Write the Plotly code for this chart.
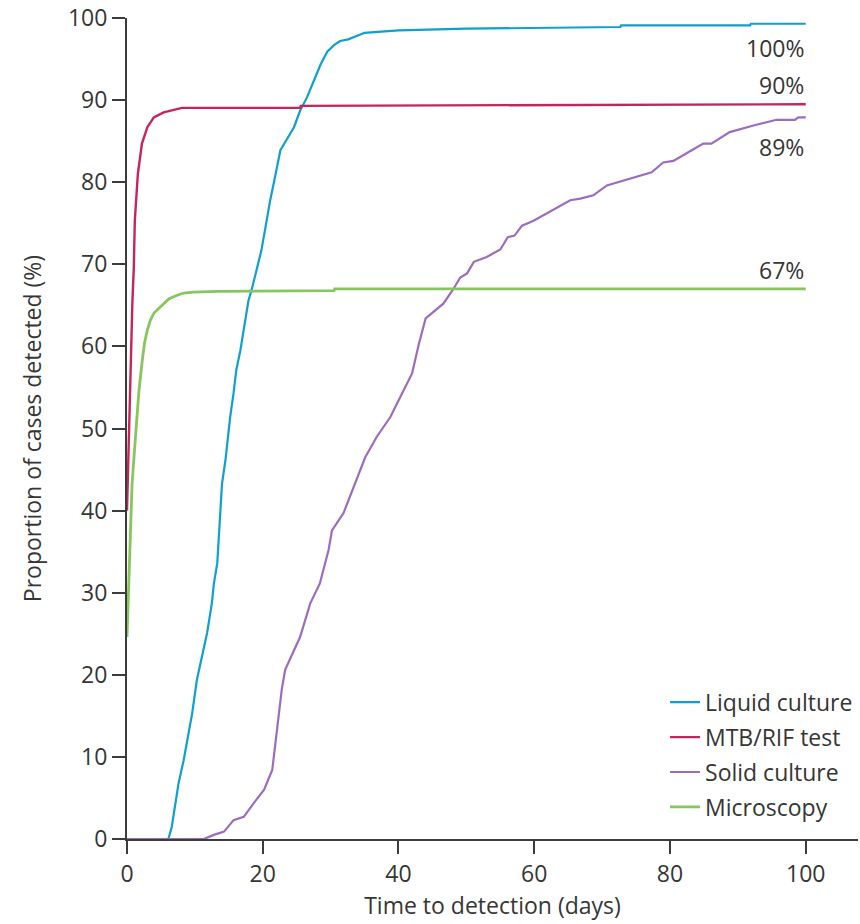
import plotly.graph_objects as go

# Time to detection (days) and cumulative proportion detected (%) per method
liquid_days = [0, 6.1, 6.6, 7.1, 7.6, 8.35, 8.85, 9.6, 10.3, 11.05, 11.8, 12.5, 12.8, 13.3, 13.5,
               14.0, 14.5, 15.2, 15.7, 16.1, 16.7, 17.3, 17.9, 18.4, 19.1, 19.8, 20.4, 21.1, 21.9,
               22.6, 23.6, 24.6, 25.5, 26.5, 27.5, 28.5, 29.5, 30.5, 31.4, 32.6, 35, 40, 50,
               72.7, 72.8, 91.8, 91.9, 100]
liquid_pct = [0, 0, 1.5, 4.4, 6.8, 9.6, 11.7, 15.3, 19.4, 22.2, 25.1, 28.7, 31.1, 33.6, 36.4,
              43.3, 46.1, 51.4, 54.3, 57.1, 59.5, 62.8, 65.6, 67.0, 69.3, 71.7, 74.5, 77.8, 81.0,
              83.9, 85.3, 86.7, 88.7, 90.3, 92.3, 94.3, 95.9, 96.7, 97.2, 97.4, 98.2, 98.5, 98.7,
              98.9, 99.1, 99.1, 99.3, 99.3]

mtb_days = [0, 0.15, 0.3, 0.5, 0.6, 0.8, 1.0, 1.15, 1.6, 2.2, 3.0, 3.95, 5.4, 8.1, 25.5, 25.6, 100]
mtb_pct = [40, 45, 50, 55, 59.5, 65.6, 69.5, 75.3, 81.0, 84.7, 86.7, 87.9, 88.5, 89.05, 89.05, 89.3, 89.5]

solid_days = [0, 11.3, 12.8, 14.3, 15.7, 17.2, 18.7, 20.2, 21.4, 22.1, 22.8, 23.3, 25.5, 27.0,
              28.4, 29.7, 30.2, 31.9, 33.4, 35.1, 36.8, 38.8, 40.3, 42.0, 43.0, 44.0, 46.6, 48.1,
              49.1, 50.1, 51.1, 53.0, 55.0, 56.1, 57.1, 58.2, 59.9, 61.8, 65.3, 66.8, 68.7, 70.7,
              74.6, 77.3, 79.0, 80.5, 83.2, 84.9, 86.1, 88.8, 92.3, 95.7, 98.4, 98.9, 100]
solid_pct = [0, 0, 0.5, 0.9, 2.3, 2.7, 4.4, 6.0, 8.4, 13.3, 18.2, 20.6, 24.6, 28.7,
             31.1, 35.2, 37.6, 39.7, 42.9, 46.5, 49.0, 51.4, 53.9, 56.7, 60.3, 63.4, 65.2, 67.0,
             68.4, 68.9, 70.3, 70.9, 71.8, 73.3, 73.5, 74.7, 75.3, 76.2, 77.8, 78.0, 78.4, 79.6,
             80.6, 81.2, 82.4, 82.6, 83.9, 84.7, 84.7, 86.1, 86.9, 87.6, 87.6, 87.9, 87.9]

micro_days = [0, 0.25, 0.4, 0.75, 1.25, 1.75, 2.25, 2.6, 3.0, 3.45, 4.0, 5.2, 6.2, 7.3, 8.35,
              9.8, 13.3, 30.5, 30.6, 100]
micro_pct = [24.6, 31.0, 35.2, 43.3, 49.0, 54.5, 58.3, 60.5, 62.0, 63.2, 64.1, 65.0, 65.8, 66.2, 66.5,
             66.6, 66.7, 66.8, 67.0, 67.0]

series_names = ["Liquid culture", "MTB/RIF test", "Solid culture", "Microscopy"]
series_colors = ["#0fa0cf", "#c8245a", "#9c6cc0", "#86c65c"]
series_widths = [2.2, 2.4, 2.2, 2.8]
series_x = [liquid_days, mtb_days, solid_days, micro_days]
series_y = [liquid_pct, mtb_pct, solid_pct, micro_pct]

# End-of-follow-up labels and where they sit vertically (in % units)
end_labels = ["100%", "90%", "89%", "67%"]
end_label_y = [96.4, 91.8, 84.3, 69.3]

x_ticks = [0, 20, 40, 60, 80, 100]
y_ticks = [0, 10, 20, 30, 40, 50, 60, 70, 80, 90, 100]

FONT = "Open Sans, Noto Sans, sans-serif"
TEXT = "#363636"
AXIS = "#3c3c3c"

fig = go.Figure()
for name, color, width, xs, ys in zip(series_names, series_colors, series_widths, series_x, series_y):
    fig.add_trace(go.Scatter(
        x=xs, y=ys, mode="lines", name=name, legendgroup=name,
        line=dict(color=color, width=width),
        hoverinfo="skip",
    ))

for text, yv in zip(end_labels, end_label_y):
    fig.add_annotation(x=100, y=yv, text=text, showarrow=False,
                       xanchor="right", yanchor="middle",
                       font=dict(family=FONT, size=23, color=TEXT))

fig.update_layout(
    width=860, height=924,
    margin=dict(l=126.5, r=2, t=18, b=84.5),
    paper_bgcolor="white", plot_bgcolor="white",
    font=dict(family=FONT, size=23, color=TEXT),
    showlegend=True,
    legend=dict(
        x=0.736, y=0.0125, xanchor="left", yanchor="bottom",
        bgcolor="rgba(0,0,0,0)", font=dict(family=FONT, size=23, color=TEXT),
        tracegroupgap=2, itemwidth=30,
    ),
    xaxis=dict(
        range=[0, 107.7], tickvals=x_ticks, ticktext=[str(v) for v in x_ticks],
        showgrid=False, zeroline=False, showline=True, linecolor=AXIS, linewidth=2,
        ticks="outside", ticklen=13, tickwidth=2, tickcolor=AXIS,
        tickfont=dict(family=FONT, size=23, color=TEXT),
        title=dict(text="Time to detection (days)", font=dict(family=FONT, size=23, color=TEXT),
                   standoff=6),
    ),
    yaxis=dict(
        range=[0, 100], tickvals=y_ticks, ticktext=[str(v) for v in y_ticks],
        showgrid=False, zeroline=False, showline=True, linecolor=AXIS, linewidth=2,
        ticks="outside", ticklen=13, tickwidth=2, tickcolor=AXIS,
        tickfont=dict(family=FONT, size=23, color=TEXT),
        title=dict(text="Proportion of cases detected (%)", font=dict(family=FONT, size=23, color=TEXT),
                   standoff=20),
    ),
)

fig.write_html("out.html")
